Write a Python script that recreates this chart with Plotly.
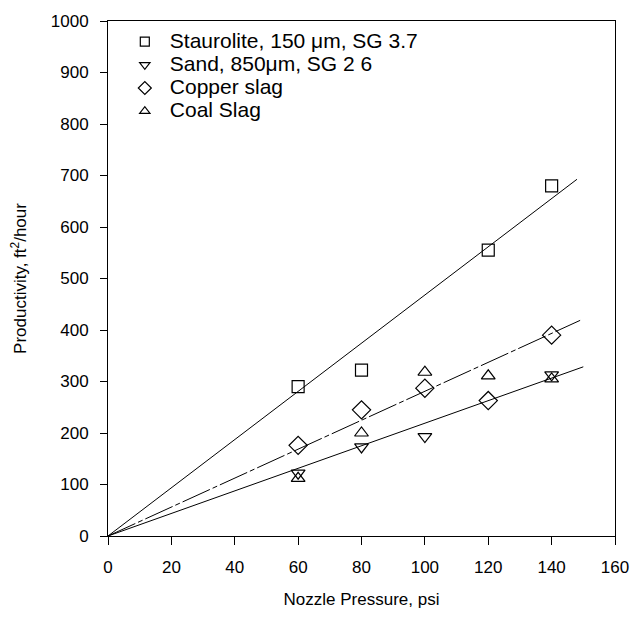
import plotly.graph_objects as go

# ---- data ----
staurolite_x = [60, 80, 120, 140]
staurolite_y = [290, 322, 555, 680]

sand_x = [60, 80, 100, 140]
sand_y = [122, 173, 193, 313]

copper_x = [60, 80, 100, 120, 140]
copper_y = [176, 245, 287, 263, 390]

coal_x = [60, 80, 100, 120, 140]
coal_y = [112, 200, 318, 311, 305]

# fitted lines through the origin (slope, end pressure)
fit_names = ["staurolite", "copper", "sand_coal"]
fit_slopes = [4.68, 2.81, 2.19]
fit_x_end = [148, 149, 150]

x_ticks = list(range(0, 161, 20))
y_ticks = list(range(0, 1001, 100))

series_names = [
    "Staurolite, 150 \u03bcm, SG 3.7",
    "Sand, 850\u03bcm, SG 2 6",
    "Copper slag",
    "Coal Slag",
]

FONT = "Liberation Sans, Arial, sans-serif"
fig = go.Figure()

# fit lines
fit_dash = ["solid", "30px,3px,5px,3px", "solid"]
for name, k, xe, d in zip(fit_names, fit_slopes, fit_x_end, fit_dash):
    fig.add_trace(go.Scatter(
        x=[0, xe], y=[0, k * xe], mode="lines",
        line=dict(color="black", width=1, dash=d),
        showlegend=False, hoverinfo="skip",
    ))

symbols = ["square-open", "triangle-down-open", "diamond-open", "triangle-up-open"]
sizes = [12, 12, 14, 12]
legend_sizes = [9, 9, 10, 9]
series_x = [staurolite_x, sand_x, copper_x, coal_x]
series_y = [staurolite_y, sand_y, copper_y, coal_y]

for xs, ys, sym, sz, lsz, nm in zip(series_x, series_y, symbols, sizes, legend_sizes, series_names):
    fig.add_trace(go.Scatter(
        x=xs, y=ys, mode="markers", name=nm, showlegend=False,
        marker=dict(symbol=sym, size=sz, color="black", line=dict(color="black", width=1.2)),
    ))
    # legend entry (no data points of its own)
    fig.add_trace(go.Scatter(
        x=[None], y=[None], mode="markers",
        name='<span style="font-size:21px">' + nm + "</span>",
        marker=dict(symbol=sym, size=lsz, color="black", line=dict(color="black", width=1.2)),
        hoverinfo="skip",
    ))

fig.update_layout(
    width=641, height=619,
    margin=dict(l=108, r=17, t=18, b=83),
    paper_bgcolor="white", plot_bgcolor="white",
    font=dict(family=FONT, color="black", size=17),
    showlegend=True,
    legend=dict(
        x=0.0233, y=0.992, xanchor="left", yanchor="top",
        font=dict(size=15.5, family=FONT, color="black"),
        bgcolor="rgba(0,0,0,0)", itemwidth=40, tracegroupgap=0,
    ),
    xaxis=dict(
        range=[0, 160], tickvals=x_ticks, ticks="outside", ticklen=8,
        tickcolor="black", showline=True, linecolor="black", linewidth=1,
        mirror=True, showgrid=False, zeroline=False,
        tickfont=dict(size=17), ticklabelstandoff=8,
        title=dict(text="Nozzle Pressure, psi", font=dict(size=17), standoff=16),
    ),
    yaxis=dict(
        range=[0, 1000], tickvals=y_ticks, ticks="outside", ticklen=7,
        tickcolor="black", showline=True, linecolor="black", linewidth=1,
        mirror=True, showgrid=False, zeroline=False,
        tickfont=dict(size=17), ticklabelstandoff=8,
        title=dict(text="Productivity, ft<sup>2</sup>/hour", font=dict(size=17), standoff=19),
    ),
)

fig.write_html("out.html")
